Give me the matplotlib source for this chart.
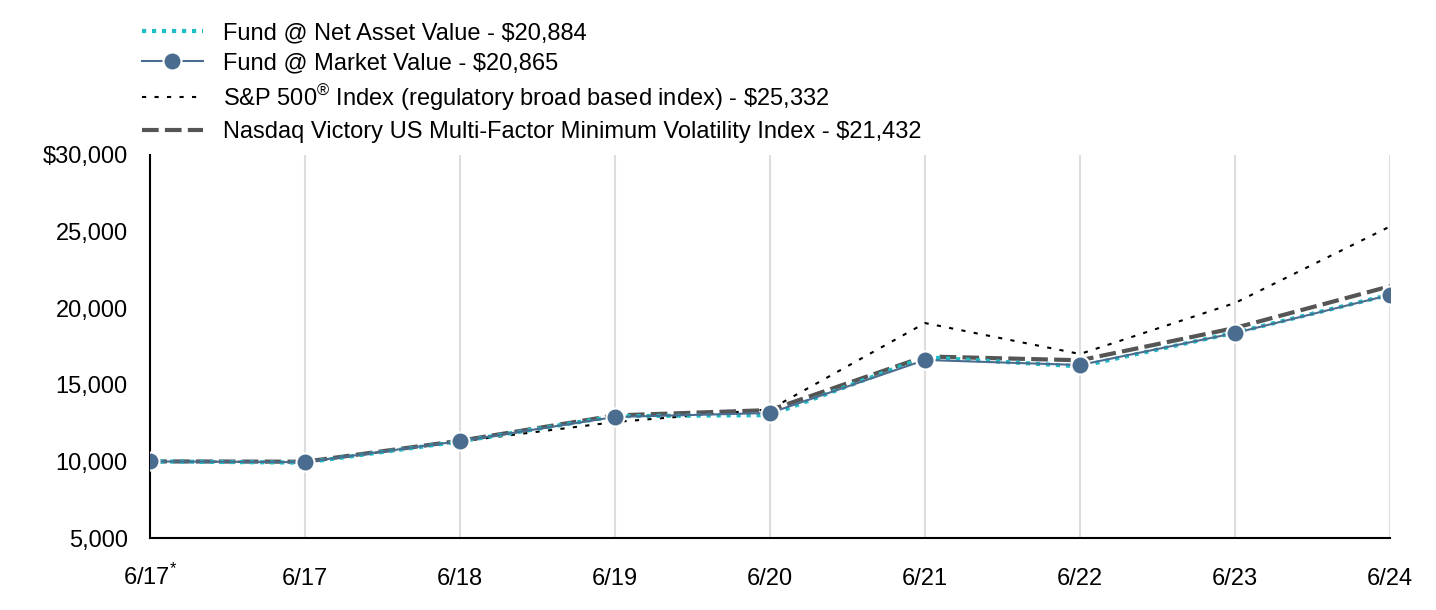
import matplotlib

matplotlib.use("Agg")
import matplotlib.pyplot as plt
from matplotlib.ticker import FuncFormatter

plt.rcParams["font.family"] = ["Liberation Sans", "DejaVu Sans"]
plt.rcParams["mathtext.fontset"] = "custom"
plt.rcParams["mathtext.rm"] = "Liberation Sans"

periods = ["6/17$^{*}$", "6/17", "6/18", "6/19", "6/20", "6/21", "6/22", "6/23", "6/24"]
nav = [10000, 9920, 11300, 12950, 13020, 16800, 16200, 18400, 20884]
market = [10000, 9950, 11330, 12900, 13160, 16620, 16290, 18380, 20865]
sp500 = [10000, 9960, 11300, 12570, 13400, 19030, 17010, 20340, 25332]
nasdaq = [10000, 9980, 11350, 13000, 13350, 16850, 16600, 18710, 21432]

x = range(len(periods))

fig = plt.figure(figsize=(14.36, 6.10), dpi=100)
ax = fig.add_axes([0.1045, 0.118, 0.8635, 0.628])

for xi in x:
    ax.axvline(xi, color="#dddddd", lw=1.5, zorder=0)

ax.plot(x, sp500, color="black", lw=1.5, ls=(0, (2, 4)),
        label="S&P 500$^{\\circledR}$ Index (regulatory broad based index) - \\$25,332", zorder=2)
ax.plot(x, nasdaq, color="#555555", lw=3, ls=(0, (4, 1.5)),
        label="Nasdaq Victory US Multi-Factor Minimum Volatility Index - $21,432", zorder=3)
ax.plot(x, nav, color="#1fbec4", lw=3, ls=(0, (1, 1.4)),
        label="Fund @ Net Asset Value - $20,884", zorder=4)
ax.plot(x, market, color="#4a6d8f", lw=1.5, marker="o", ms=13, mfc="#4a6d8f",
        mec="white", mew=1.5, label="Fund @ Market Value - $20,865", zorder=5)

ax.set_xlim(0, len(periods) - 1)
ax.set_ylim(5000, 30000)
ax.set_yticks(range(5000, 30001, 5000))
ax.yaxis.set_major_formatter(FuncFormatter(lambda v, p: f"${v:,.0f}" if v == 30000 else f"{v:,.0f}"))
ax.set_xticks(list(x))
ax.set_xticklabels(periods)
ax.tick_params(length=0, labelsize=17)
ax.tick_params(axis="y", pad=16)
ax.tick_params(axis="x", pad=34)
for lbl in ax.get_xticklabels():
    lbl.set_verticalalignment("baseline")
for s in ["top", "right"]:
    ax.spines[s].set_visible(False)
for s in ["left", "bottom"]:
    ax.spines[s].set_linewidth(1.5)
    ax.spines[s].set_color("black")

h, l = ax.get_legend_handles_labels()
order = [2, 3, 0, 1]
fig.legend([h[i] for i in order], [l[i] for i in order], loc="upper left",
           bbox_to_anchor=(0.0855, 0.995), frameon=False, fontsize=17,
           handlelength=2.6, labelspacing=0.34, handletextpad=0.85,
           borderaxespad=0.4)

fig.savefig("out.png", dpi=100)
